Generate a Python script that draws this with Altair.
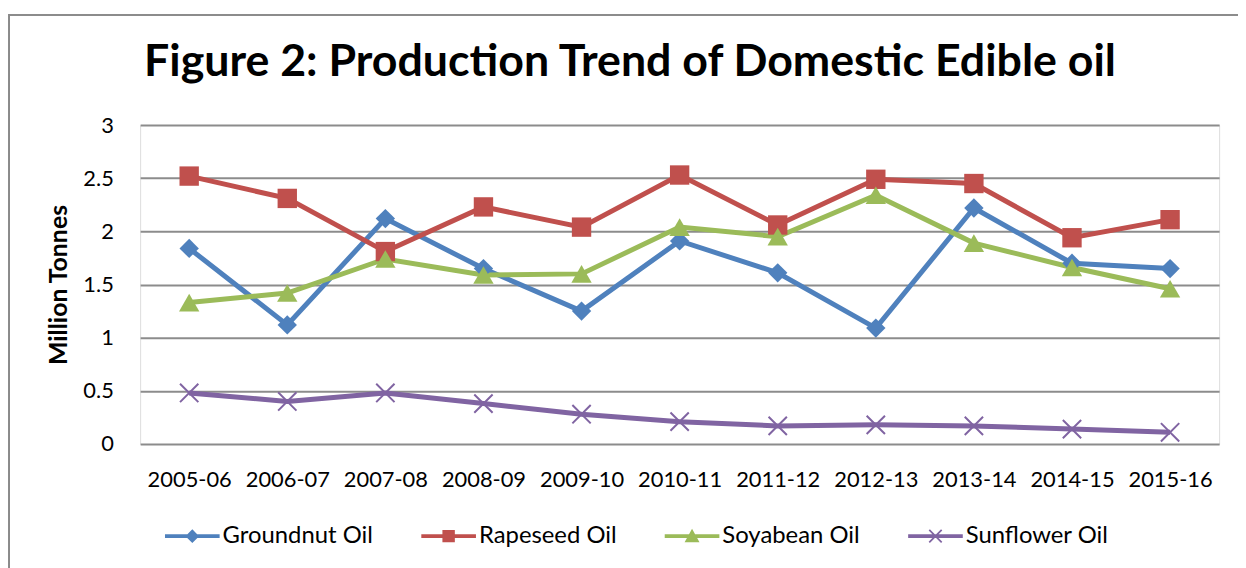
import altair as alt
import pandas as pd

years = ["2005-06", "2006-07", "2007-08", "2008-09", "2009-10", "2010-11",
         "2011-12", "2012-13", "2013-14", "2014-15", "2015-16"]
series_names = ["Groundnut Oil", "Rapeseed Oil", "Soyabean Oil", "Sunflower Oil"]
groundnut = [1.84, 1.12, 2.12, 1.65, 1.25, 1.91, 1.61, 1.09, 2.22, 1.70, 1.65]
rapeseed = [2.52, 2.31, 1.81, 2.23, 2.04, 2.53, 2.06, 2.49, 2.45, 1.94, 2.11]
soyabean = [1.33, 1.42, 1.74, 1.59, 1.60, 2.04, 1.95, 2.34, 1.89, 1.66, 1.46]
sunflower = [0.48, 0.40, 0.48, 0.38, 0.28, 0.21, 0.17, 0.18, 0.17, 0.14, 0.11]
y_ticks = [0, 0.5, 1, 1.5, 2, 2.5, 3]

colors = ["#4F81BD", "#C0504D", "#9BBB59", "#8064A2"]
X_PATH = "M-1,-1L1,1M-1,1L1,-1"
marker_shapes = ["diamond", "square", "triangle-up", X_PATH]
marker_sizes = [380, 380, 420, 340]

# legend symbols: line + marker drawn as filled paths
LINE = "M-2.2,-0.16H2.2V0.16H-2.2Z"
legend_paths = [
    LINE + "M0,-0.55L0.55,0L0,0.55L-0.55,0Z",
    LINE + "M-0.5,-0.5H0.5V0.5H-0.5Z",
    LINE + "M0,-0.6L0.6,0.5L-0.6,0.5Z",
    LINE + "M-0.55,-0.45L-0.45,-0.55L0.55,0.45L0.45,0.55Z"
         + "M-0.45,0.55L-0.55,0.45L0.45,-0.55L0.55,-0.45Z",
]

rows = []
for name, vals in zip(series_names, [groundnut, rapeseed, soyabean, sunflower]):
    for yr, v in zip(years, vals):
        rows.append({"year": yr, "series": name, "value": v})
df = pd.DataFrame(rows)

FONT = "Lato"
color_scale = alt.Scale(domain=series_names, range=colors)

x_enc = alt.X("year:N", sort=years,
              axis=alt.Axis(title=None, labelAngle=0, labelFont=FONT, labelFontSize=22,
                            labelColor="black", domain=False, ticks=False, grid=False,
                            labelPadding=26))
y_enc = alt.Y("value:Q", scale=alt.Scale(domain=[0, 3], nice=False),
              axis=alt.Axis(title="Million Tonnes", values=y_ticks, format="~g",
                            labelFont=FONT, labelFontSize=22, labelColor="black",
                            titleFont=FONT, titleFontSize=25, titleFontWeight="bold",
                            titleColor="black", titlePadding=11,
                            domain=False, ticks=False, labelPadding=27,
                            gridColor="#8c8c8c", gridWidth=2))

legend_props = dict(title=None, orient="none", legendX=40, legendY=401,
                    direction="horizontal", columns=4,
                    labelFont=FONT, labelFontSize=24, labelColor="black",
                    symbolSize=625, symbolStrokeWidth=0,
                    labelOffset=18, columnPadding=47, padding=0)

base = alt.Chart(df)

legend_layer = base.mark_point(filled=True, opacity=1).encode(
    x=x_enc, y=y_enc,
    color=alt.Color("series:N", scale=color_scale, legend=alt.Legend(**legend_props)),
    shape=alt.Shape("series:N", scale=alt.Scale(domain=series_names, range=legend_paths),
                    legend=alt.Legend(**legend_props)),
).transform_filter("false")

lines = base.mark_line(strokeWidth=5).encode(
    x=x_enc, y=y_enc,
    color=alt.Color("series:N", scale=color_scale, legend=None),
    detail="series:N",
)

point_layers = []
for name, shp, sz in zip(series_names, marker_shapes, marker_sizes):
    filled = shp != X_PATH
    mk = base.mark_point(shape=shp, size=sz, filled=filled, opacity=1,
                         strokeWidth=(2 if not filled else 0))
    point_layers.append(
        mk.encode(x=x_enc, y=y_enc,
                  color=alt.Color("series:N", scale=color_scale, legend=None))
        .transform_filter(alt.datum.series == name)
    )

frame_top = base.mark_rule(color="#8c8c8c", strokeWidth=1.5).encode(
    x=alt.value(-132.5), x2=alt.value(1200), y=alt.value(-111))
frame_left = base.mark_rule(color="#8c8c8c", strokeWidth=1.5).encode(
    x=alt.value(-132.5), y=alt.value(-111), y2=alt.value(600))

chart = alt.layer(legend_layer, frame_top, frame_left, lines, *point_layers).properties(
    width=1086, height=321,
    padding={"left": 133, "top": 116, "right": 19, "bottom": 123},
    autosize=alt.AutoSizeParams(type="none"),
    title=alt.Title("Figure 2: Production Trend of Domestic Edible oil", font=FONT,
                    fontSize=45, fontWeight="bold", color="black", anchor="middle",
                    dx=-50, offset=-107, baseline="alphabetic"),
).configure_view(stroke=None).configure(background="white")

chart.save("out.html", embed_options={"renderer": "svg", "actions": False})
